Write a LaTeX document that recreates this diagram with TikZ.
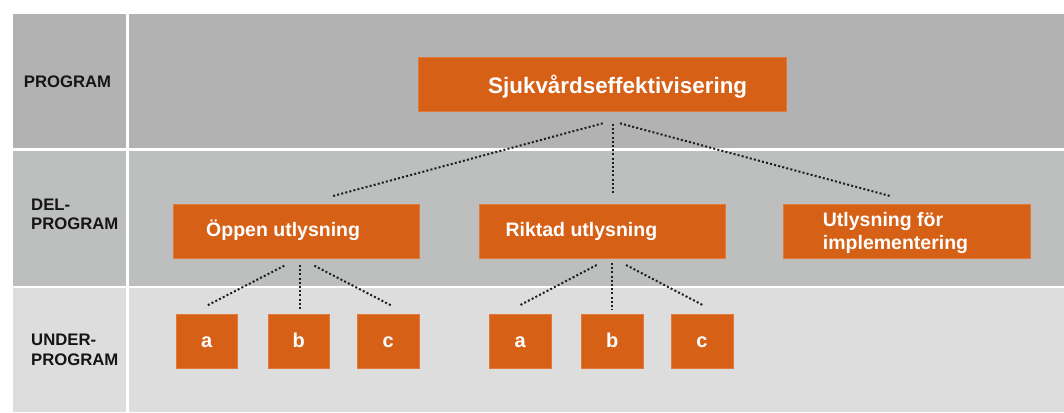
\documentclass[tikz,border=0pt]{standalone}
\usepackage{fontspec}
\setmainfont{Liberation Sans}
\definecolor{bandA}{HTML}{B2B2B2}
\definecolor{bandB}{HTML}{BCBFBD}
\definecolor{bandC}{HTML}{DCDDDC}
\definecolor{boxfill}{HTML}{D66016}
\definecolor{boxedge}{HTML}{E0793A}
\definecolor{dotcol}{HTML}{1E1E1E}
\definecolor{labcol}{HTML}{151515}
\tikzset{
  obox/.style={rectangle, fill=boxfill, draw=boxedge, line width=0.6pt, inner sep=0pt},
  btext/.style={text=white, font=\bfseries\fontsize{19.5}{23.3}\selectfont, inner sep=0pt, anchor=base west, align=left},
  ltext/.style={text=labcol, inner sep=0pt, anchor=base west, align=left},
  dotline/.style={draw=dotcol, line width=2pt, dash pattern=on 2pt off 2.2pt},
}
\begin{document}
\begin{tikzpicture}[x=1pt,y=-1pt]
\useasboundingbox[fill=white] (0,0) rectangle (1064,412);
% bands
\fill[bandA] (12.7,14) rectangle (126,147.7);
\fill[bandA] (129,14) rectangle (1064,147.7);
\fill[bandB] (12.7,151) rectangle (126,285.5);
\fill[bandB] (129,151) rectangle (1064,285.5);
\fill[bandC] (12.7,288.3) rectangle (126,412);
\fill[bandC] (129,288.3) rectangle (1064,412);
% row labels (base anchor = baseline of the last line)
\node[ltext, font=\bfseries\fontsize{16.7}{18.7}\selectfont] (lab1) at (23.7,87.3) {PROGRAM};
\node[ltext, font=\bfseries\fontsize{16.7}{18.7}\selectfont] (lab2) at (31,229.3) {DEL-\\PROGRAM};
\node[ltext, font=\bfseries\fontsize{16.7}{19.2}\selectfont] (lab3) at (31,365) {UNDER-\\PROGRAM};
% boxes
\node[obox, minimum width=368.7pt, minimum height=53.7pt] (top) at (602.4,84.2) {};
\node[btext, font=\bfseries\fontsize{22.4}{26}\selectfont] (topT) at (488,93.3) {Sjukvårdseffektivisering};
\node[obox, minimum width=246pt, minimum height=54pt] (open) at (296.3,231.3) {};
\node[btext] (openT) at (206,236.7) {Öppen utlysning};
\node[obox, minimum width=246.7pt, minimum height=54pt] (rikt) at (602.4,231.3) {};
\node[btext] (riktT) at (505.3,236.7) {Riktad utlysning};
\node[obox, minimum width=246.7pt, minimum height=54pt] (impl) at (906.7,231.3) {};
\node[btext] (implT) at (822.7,249.3) {Utlysning för\\implementering};
\foreach \n/\x/\t in {a1/206.8/a, b1/298.8/b, c1/388.2/c, a2/520.3/a, b2/612.3/b, c2/702/c}{
  \node[obox, minimum width=61.8pt, minimum height=54pt, text=white, text height=13pt, text depth=0pt, font=\bfseries\fontsize{20}{24}\selectfont] (\n) at (\x,341) {\t};
}
% connector end points
\coordinate (tL) at (602.7,123.3); \coordinate (tV) at (612.5,124); \coordinate (tR) at (620,123.3);
\coordinate (openIn) at (333,196); \coordinate (riktIn) at (612.5,194); \coordinate (implIn) at (890,196);
\coordinate (oL) at (284.3,265.7); \coordinate (oV) at (299.5,265); \coordinate (oR) at (314.3,265.7);
\coordinate (a1In) at (206.7,305.7); \coordinate (b1In) at (299.5,310.7); \coordinate (c1In) at (391.7,305.7);
\coordinate (rL) at (596.7,265); \coordinate (rV) at (611.5,263); \coordinate (rR) at (626,265);
\coordinate (a2In) at (519,305.7); \coordinate (b2In) at (611.5,310); \coordinate (c2In) at (704,305.7);
% connectors
\draw[dotline] (tL) -- (openIn);
\draw[dotline] (tV) -- (riktIn);
\draw[dotline] (tR) -- (implIn);
\draw[dotline] (oL) -- (a1In);
\draw[dotline] (oV) -- (b1In);
\draw[dotline] (oR) -- (c1In);
\draw[dotline] (rL) -- (a2In);
\draw[dotline] (rV) -- (b2In);
\draw[dotline] (rR) -- (c2In);
\end{tikzpicture}
\end{document}
